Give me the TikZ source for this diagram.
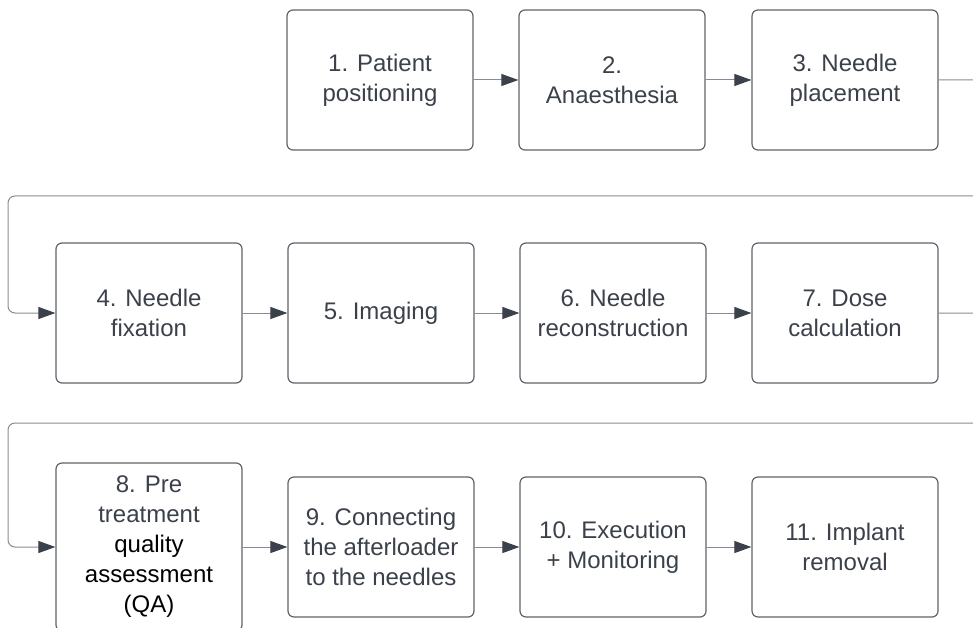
\documentclass[tikz,border=0pt]{standalone}
\usepackage{fontspec}
\setmainfont{Liberation Sans}
\usetikzlibrary{arrows.meta}

\definecolor{txtgray}{HTML}{3B414A}
\definecolor{boxgray}{HTML}{5E646C}
\definecolor{linegray}{HTML}{878C94}

\begin{document}
\begin{tikzpicture}[x=1pt, y=-1pt, >={Triangle[length=17pt, width=12pt, color=txtgray]},
	every node/.style={font=\fontsize{24}{30}\selectfont, text=txtgray},
	stepbox/.style={draw=boxgray, line width=1.2pt, rounded corners=6pt, minimum width=186pt, minimum height=140pt, align=center, inner sep=0pt},
	flow/.style={->, draw=linegray, line width=1pt, rounded corners=7pt}]
		\useasboundingbox (0, 0) rectangle (973, 628);
		\clip (0, 0) rectangle (973, 628);
		
		\node[stepbox] (1) at (380, 80) {1. Patient\\positioning};
		\node[stepbox] (2) at (612, 80) {2.\\Anaesthesia};
		\node[stepbox] (3) at (845, 80) {3. Needle\\placement};
		
		\node[stepbox] (4) at (149, 313) {4. Needle\\fixation};
		\node[stepbox] (5) at (381, 313) {5. Imaging};
		\node[stepbox] (6) at (613, 313) {6. Needle\\reconstruction};
		\node[stepbox] (7) at (845, 313) {7. Dose\\calculation};
		
		\node[stepbox, minimum height=168pt] (8) at (149, 547) {8. Pre\\treatment\\\textcolor{black}{quality}\\\textcolor{black}{assessment}\\\textcolor{black}{(QA)}};
		\node[stepbox] (9) at (381, 547) {9. Connecting\\the afterloader\\to the needles};
		\node[stepbox] (10) at (613, 547) {10. Execution\\+ Monitoring};
		\node[stepbox] (11) at (845, 547) {11. Implant\\removal};
		
		% turns of the row changes, the right ones lie off the page
		\coordinate (a1) at (1000, 80);
		\coordinate (a2) at (1000, 196);
		\coordinate (a3) at (8, 196);
		\coordinate (a4) at (8, 313);
		\coordinate (b1) at (1000, 313);
		\coordinate (b2) at (1000, 423);
		\coordinate (b3) at (8, 423);
		\coordinate (b4) at (8, 547);
		
		\path[flow] (1) edge (2)
			(2) edge (3)
			(4) edge (5)
			(5) edge (6)
			(6) edge (7)
			(8) edge (9)
			(9) edge (10)
			(10) edge (11);
		\draw[flow] (3.east) -- (a1) -- (a2) -- (a3) -- (a4) -- (4.west);
		\draw[flow] (7.east) -- (b1) -- (b2) -- (b3) -- (b4) -- (8.west);
	\end{tikzpicture}
\end{document}
